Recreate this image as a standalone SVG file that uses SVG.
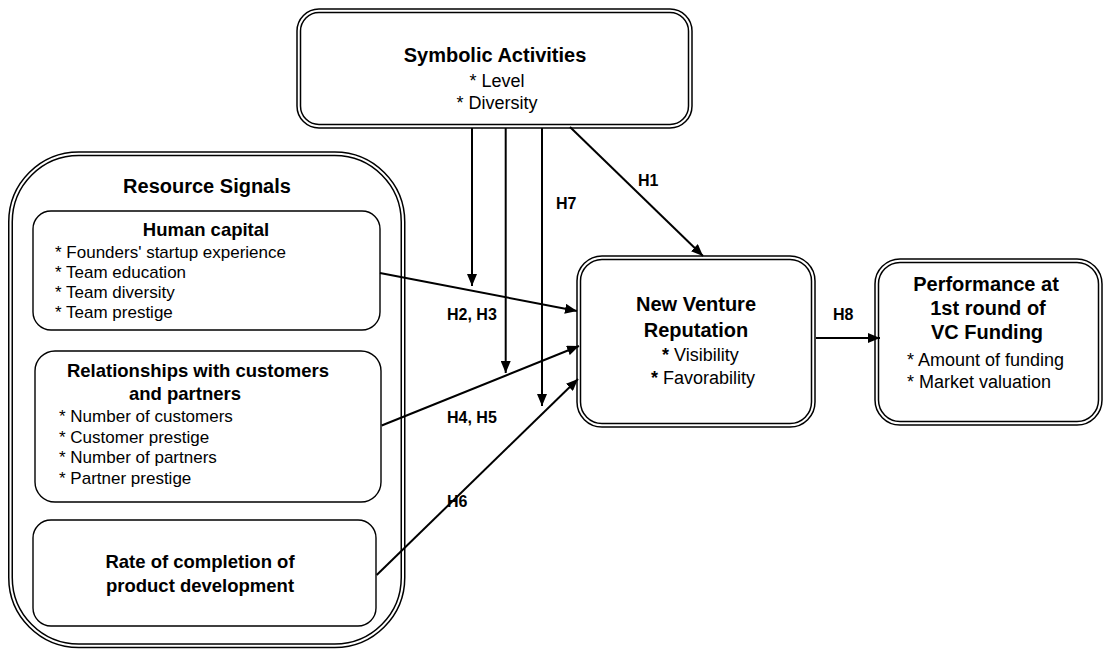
<svg xmlns="http://www.w3.org/2000/svg" width="1103" height="651" viewBox="0 0 1103 651">
  <defs>
    <marker id="arrow" markerWidth="13" markerHeight="10" refX="12" refY="5" orient="auto" markerUnits="userSpaceOnUse">
      <path d="M0,0 L12,5 L0,10 z" fill="#000"/>
    </marker>
  </defs>
  <style>
    .b{fill:none;stroke:#000;stroke-width:1.5}
    .s{fill:none;stroke:#000;stroke-width:1.4}
    text{font-family:"Liberation Sans",Arial,sans-serif;fill:#000}
    .t{font-size:20px;font-weight:bold;text-anchor:middle}
    .st{font-size:18.5px;font-weight:bold;text-anchor:middle}
    .i{font-size:17px}
    .i18{font-size:18px}
    .m{text-anchor:middle}
    .lab{font-size:16px;font-weight:bold}
    .c{fill:none;stroke:#000;stroke-width:2;marker-end:url(#arrow)}
  </style>
  <rect width="1103" height="651" fill="#fff"/>

  <!-- Symbolic activities (double border) -->
  <g id="symbolic">
    <rect class="b" x="297" y="9" width="395" height="119" rx="22"/>
    <rect class="b" x="300.5" y="12.5" width="388" height="112" rx="18.5"/>
    <text class="t" x="495" y="62">Symbolic Activities</text>
    <text class="i18 m" x="497" y="87">* Level</text>
    <text class="i18 m" x="497" y="109">* Diversity</text>
  </g>

  <!-- Resource signals container with three sub-boxes -->
  <g id="resource-signals">
    <rect class="b" x="8.75" y="152" width="396" height="495.5" rx="70"/>
    <rect class="b" x="12.25" y="155.5" width="389" height="488.5" rx="66.5"/>
    <text class="t" x="207" y="193">Resource Signals</text>
  </g>
  <g id="human-capital">
    <rect class="s" x="33" y="211" width="347" height="119" rx="18"/>
    <text class="st" x="206" y="236">Human capital</text>
    <text class="i" x="55" y="258">* Founders' startup experience</text>
    <text class="i" x="55" y="278">* Team education</text>
    <text class="i" x="55" y="298">* Team diversity</text>
    <text class="i" x="55" y="318">* Team prestige</text>
  </g>
  <g id="relationships">
    <rect class="s" x="35" y="351" width="346" height="151" rx="20"/>
    <text class="st" x="198" y="377">Relationships with customers</text>
    <text class="st" x="129" y="400" style="text-anchor:start">and partners</text>
    <text class="i" x="59" y="422">* Number of customers</text>
    <text class="i" x="59" y="443">* Customer prestige</text>
    <text class="i" x="59" y="463">* Number of partners</text>
    <text class="i" x="59" y="484">* Partner prestige</text>
  </g>
  <g id="product-development">
    <rect class="s" x="33" y="520" width="343" height="106" rx="18"/>
    <text class="st" x="200" y="568">Rate of completion of</text>
    <text class="st" x="200" y="592">product development</text>
  </g>

  <!-- New venture reputation -->
  <g id="reputation">
    <rect class="b" x="577" y="256" width="238" height="171" rx="25"/>
    <rect class="b" x="580.5" y="259.5" width="231" height="164" rx="21.5"/>
    <text class="t" x="696" y="311">New Venture</text>
    <text class="t" x="696" y="337">Reputation</text>
    <text class="i18" x="662" y="361"><tspan font-weight="bold">*</tspan> Visibility</text>
    <text class="i18" x="651" y="384"><tspan font-weight="bold">*</tspan> Favorability</text>
  </g>

  <!-- Performance at first VC round -->
  <g id="performance">
    <rect class="b" x="875" y="259" width="227" height="166" rx="25"/>
    <rect class="b" x="878.5" y="262.5" width="220" height="159" rx="21.5"/>
    <text class="t" x="986" y="291">Performance at</text>
    <text class="t" x="988" y="315">1st round of</text>
    <text class="t" x="987" y="339">VC Funding</text>
    <text class="i18" x="907" y="366">* Amount of funding</text>
    <text class="i18" x="907" y="388">* Market valuation</text>
  </g>

  <!-- Hypothesised paths -->
  <g id="connectors">
    <line class="c" x1="570" y1="127" x2="703" y2="256"/>
    <line class="c" x1="472" y1="128" x2="472" y2="286"/>
    <line class="c" x1="505.7" y1="128" x2="505.7" y2="373"/>
    <line class="c" x1="542" y1="128" x2="542" y2="406"/>
    <line class="c" x1="380" y1="273" x2="577" y2="311"/>
    <line class="c" x1="381.7" y1="425.5" x2="579" y2="346"/>
    <line class="c" x1="376.7" y1="575" x2="578" y2="379"/>
    <line class="c" x1="816" y1="338" x2="880" y2="338"/>
    <text class="lab" x="638" y="186">H1</text>
    <text class="lab" x="556" y="209">H7</text>
    <text class="lab" x="447" y="320">H2, H3</text>
    <text class="lab" x="447" y="423">H4, H5</text>
    <text class="lab" x="447" y="507">H6</text>
    <text class="lab" x="833" y="320">H8</text>
  </g>
</svg>
